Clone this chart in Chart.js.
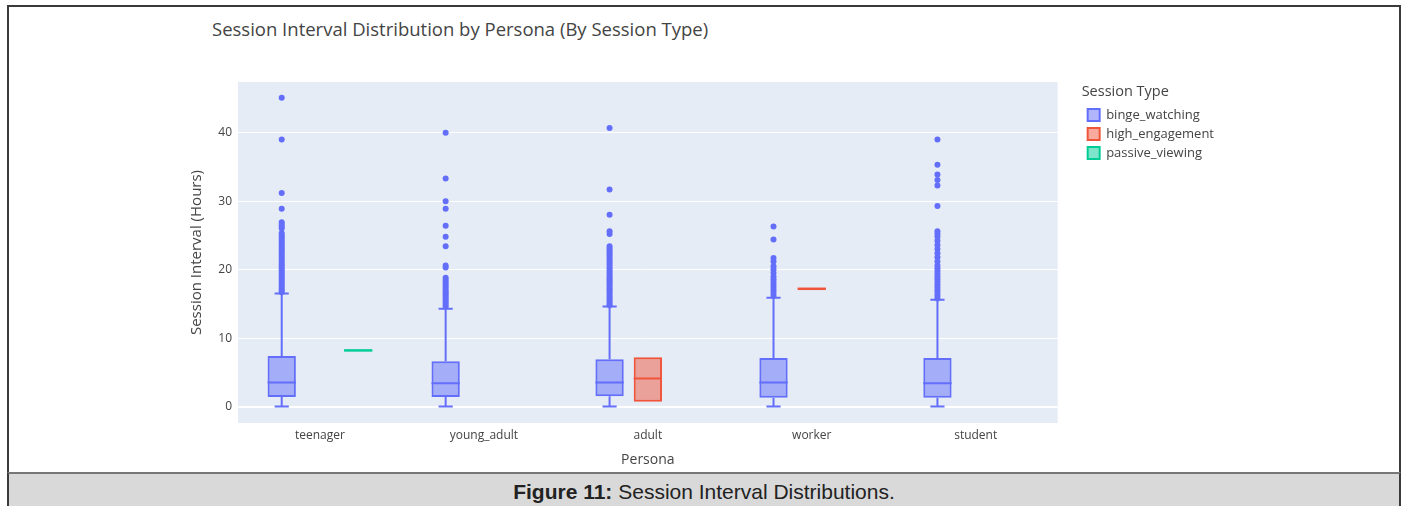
<!DOCTYPE html>
<html>
<head>
<meta charset="utf-8">
<script src="https://cdn.jsdelivr.net/npm/chart.js@4.4.1/dist/chart.umd.min.js"></script>
<style>
  body { margin: 0; width: 1402px; height: 506px; background: #fff; overflow: hidden; position: relative; }
  #frame { position: absolute; left: 7px; top: 5px; width: 1394px; height: 470px; border: 2px solid #3a3a3a; border-bottom: none; box-sizing: border-box; }
  #title { position: absolute; left: 212px; top: 16px; font: 18.5px "Open Sans", sans-serif; color: #444; white-space: nowrap; }
  #wrap { position: absolute; left: 9px; top: 7px; width: 1389px; height: 464px; }
  #caption { position: absolute; left: 7px; top: 472px; width: 1394px; height: 40px; background: #d9d9d9; border: 2px solid #3a3a3a; border-top: 2px solid #777; box-sizing: border-box; text-align: center; font: 21px "Liberation Sans", Arial, sans-serif; color: #222; line-height: 36px; }
</style>
</head>
<body>
<div id="frame"></div>
<div id="title">Session Interval Distribution by Persona (By Session Type)</div>
<div id="wrap"><canvas id="boxChart" width="1389" height="464"></canvas></div>
<div id="caption"><b>Figure 11:</b> Session Interval Distributions.</div>

<script>
/******************************************************************
DATA
******************************************************************/

var personas = ["teenager", "young_adult", "adult", "worker", "student"];
var yTicks = [0, 10, 20, 30, 40];

// binge_watching box stats
var bingeMin    = [0, 0, 0, 0, 0];
var bingeQ1     = [1.4, 1.4, 1.5, 1.3, 1.3];
var bingeMedian = [3.5, 3.4, 3.5, 3.5, 3.4];
var bingeQ3     = [7.4, 6.6, 6.9, 7.1, 7.1];
var bingeMax    = [16.5, 14.3, 14.6, 15.9, 15.6];

// high_engagement box stats
var highMin    = [null, null, 0.7, 17.2, null];
var highQ1     = [null, null, 0.7, 17.2, null];
var highMedian = [null, null, 4.1, 17.2, null];
var highQ3     = [null, null, 7.2, 17.2, null];
var highMax    = [null, null, 7.2, 17.2, null];

// passive_viewing box stats
var passiveMin    = [8.2, null, null, null, null];
var passiveQ1     = [8.2, null, null, null, null];
var passiveMedian = [8.2, null, null, null, null];
var passiveQ3     = [8.2, null, null, null, null];
var passiveMax    = [8.2, null, null, null, null];

// binge_watching outliers
var teenagerOut = [45.1, 39.0, 31.2, 28.9, 26.9, 26.6, 26.3, 26.0, 25.3, 25.0, 24.7, 24.4, 24.1, 23.8, 23.5,
  23.2, 22.9, 22.6, 22.3, 22.0, 21.7, 21.4, 21.1, 20.8, 20.5, 20.2, 19.9, 19.6, 19.3, 19.0, 18.7, 18.4,
  18.1, 17.8, 17.5, 17.2, 16.9, 16.7];
var youngAdultOut = [40.0, 33.3, 30.0, 28.9, 26.4, 24.8, 23.4, 20.6, 20.3, 18.8, 18.5, 18.2, 17.9, 17.6,
  17.3, 17.0, 16.7, 16.4, 16.1, 15.8, 15.5, 15.2, 14.9, 14.6];
var adultOut = [40.7, 31.7, 28.0, 25.6, 25.2, 23.4, 23.1, 22.8, 22.5, 22.2, 21.9, 21.6, 21.3, 21.0, 20.7,
  20.4, 20.1, 19.8, 19.5, 19.2, 18.9, 18.6, 18.3, 18.0, 17.7, 17.4, 17.1, 16.8, 16.5, 16.2, 15.9, 15.6,
  15.3, 15.0, 14.8];
var workerOut = [26.3, 24.4, 21.7, 21.2, 20.5, 20.0, 19.5, 19.0, 18.6, 18.2, 17.8, 17.4, 17.0, 16.6, 16.2];
var studentOut = [39.0, 35.3, 33.9, 33.1, 32.3, 29.3, 25.6, 25.2, 24.8, 24.2, 23.6, 23.0, 22.4, 21.8, 21.2,
  20.6, 20.2, 19.8, 19.4, 19.0, 18.6, 18.2, 17.8, 17.4, 17.0, 16.6, 16.2, 15.8];

/******************************************************************
BOX HELPERS
******************************************************************/

var stats = [
  { min: bingeMin, q1: bingeQ1, median: bingeMedian, q3: bingeQ3, max: bingeMax,
    outliers: [teenagerOut, youngAdultOut, adultOut, workerOut, studentOut] },
  { min: highMin, q1: highQ1, median: highMedian, q3: highQ3, max: highMax, outliers: [] },
  { min: passiveMin, q1: passiveQ1, median: passiveMedian, q3: passiveQ3, max: passiveMax, outliers: [] }
];

function boxRange(q1, q3) {
  return q1.map(function (v, i) { return v == null ? null : [v, q3[i]]; });
}

var FONT = "'Open Sans', sans-serif";

// plot background
var plotBg = {
  id: 'plotBg',
  beforeDraw: function (chart) {
    var a = chart.chartArea, ctx = chart.ctx;
    ctx.save();
    ctx.fillStyle = '#E5ECF6';
    ctx.fillRect(a.left, a.top, a.right - a.left, a.bottom - a.top);
    ctx.restore();
  }
};

// medians, whiskers and outlier dots
var boxParts = {
  id: 'boxParts',
  afterDatasetsDraw: function (chart) {
    var ctx = chart.ctx, y = chart.scales.y;
    chart.data.datasets.forEach(function (ds, di) {
      var st = stats[di];
      chart.getDatasetMeta(di).data.forEach(function (bar, i) {
        if (st.median[i] == null) return;
        var x = bar.x, half = bar.width / 2, cap = bar.width / 4;
        var py = function (v) { return y.getPixelForValue(v); };
        ctx.save();
        ctx.strokeStyle = ds.borderColor;
        ctx.lineWidth = st.q1[i] === st.q3[i] ? 2.5 : 2;
        ctx.beginPath();
        ctx.moveTo(x - half, py(st.median[i]));
        ctx.lineTo(x + half, py(st.median[i]));
        if (st.max[i] > st.q3[i]) {
          ctx.moveTo(x, py(st.q3[i])); ctx.lineTo(x, py(st.max[i]));
          ctx.moveTo(x - cap, py(st.max[i])); ctx.lineTo(x + cap, py(st.max[i]));
        }
        if (st.min[i] < st.q1[i]) {
          ctx.moveTo(x, py(st.q1[i])); ctx.lineTo(x, py(st.min[i]));
          ctx.moveTo(x - cap, py(st.min[i])); ctx.lineTo(x + cap, py(st.min[i]));
        }
        ctx.stroke();
        ctx.fillStyle = ds.borderColor;
        (st.outliers[i] || []).forEach(function (v) {
          ctx.beginPath();
          ctx.arc(x, py(v), 3, 0, 2 * Math.PI);
          ctx.fill();
        });
        ctx.restore();
      });
    });
  }
};

/******************************************************************
CHART
******************************************************************/

var ctx = document.getElementById('boxChart').getContext('2d');
var chart = new Chart(ctx, {
  type: 'bar',
  data: {
    labels: personas,
    datasets: [{
      label: 'binge_watching',
      data: boxRange(bingeQ1, bingeQ3),
      backgroundColor: 'rgba(99,110,250,0.5)',
      borderColor: '#636EFA',
      borderWidth: 2,
      borderSkipped: false
    }, {
      label: 'high_engagement',
      data: boxRange(highQ1, highQ3),
      backgroundColor: 'rgba(239,85,59,0.5)',
      borderColor: '#EF553B',
      borderWidth: 2,
      borderSkipped: false
    }, {
      label: 'passive_viewing',
      data: boxRange(passiveQ1, passiveQ3),
      backgroundColor: 'rgba(0,204,150,0.5)',
      borderColor: '#00CC96',
      borderWidth: 2,
      borderSkipped: false
    }]
  },
  options: {
    responsive: false,
    animation: false,
    events: [],
    categoryPercentage: 0.7,
    barPercentage: 0.74,
    layout: { padding: { left: 179, top: 75, right: 174, bottom: 3 } },
    plugins: {
      tooltip: { enabled: false },
      legend: {
        position: 'right',
        align: 'start',
        title: { display: true, text: 'Session Type', position: 'start', color: '#444', font: { family: FONT, size: 14.5 }, padding: { top: 3, bottom: 0 } },
        labels: { color: '#444', font: { family: FONT, size: 13 }, boxWidth: 12, boxHeight: 12, padding: 6 }
      }
    },
    scales: {
      x: {
        grid: { display: false, drawTicks: false },
        border: { display: false },
        ticks: { color: '#444', font: { family: FONT, size: 12 }, padding: 5 },
        title: { display: true, text: 'Persona', color: '#444', font: { family: FONT, size: 14 }, padding: 0 },
        afterFit: function (s) { s.height = 45; }
      },
      y: {
        min: -2.4,
        max: 47.4,
        afterBuildTicks: function (s) { s.ticks = yTicks.map(function (v) { return { value: v }; }); },
        grid: { color: '#fff', lineWidth: function (c) { return c.tick && c.tick.value === 0 ? 2 : 1; }, drawTicks: false },
        border: { display: false },
        ticks: { color: '#444', font: { family: FONT, size: 12 }, padding: 6 },
        title: { display: true, text: 'Session Interval (Hours)', color: '#444', font: { family: FONT, size: 15 }, padding: 0 },
        afterFit: function (s) { s.width = 50; }
      },
      gap: {
        position: 'right',
        display: true,
        grid: { display: false },
        border: { display: false },
        ticks: { display: false },
        afterFit: function (s) { s.width = 24; }
      }
    }
  },
  plugins: [plotBg, boxParts]
});
</script>
</body>
</html>
